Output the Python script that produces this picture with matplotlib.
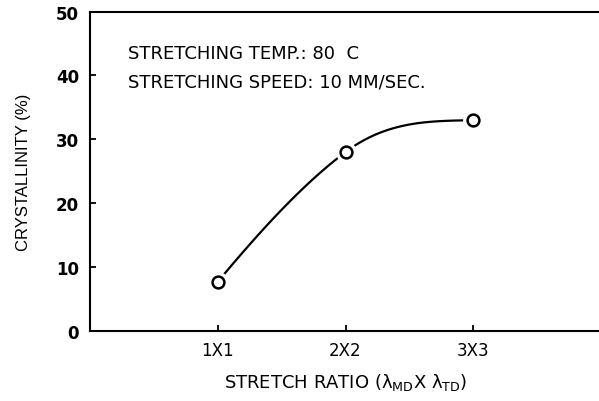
import numpy as np
import matplotlib
matplotlib.use("Agg")
import matplotlib.pyplot as plt

plt.rcParams['font.family'] = ['DejaVu Sans']
plt.rcParams['mathtext.fontset'] = 'dejavusans'

# --- datos ---
categorias = ["1X1", "2X2", "3X3"]
x_pos = [1, 2, 3]
cristalinidad = [7.7, 28.0, 33.0]
# pendientes para la curva suave (Hermite)
pendientes = [24.0, 15.0, 0.5]

fig = plt.figure(figsize=(5.99, 4.02), dpi=100)
ax = fig.add_axes([90/599, 70/402, 511/599, 319.5/402])

# --- curva suave entre puntos ---
def hermite(xs, ys, ms, n=60):
    xx, yy = [], []
    for i in range(len(xs) - 1):
        h = xs[i+1] - xs[i]
        t = np.linspace(0, 1, n)
        h00 = 2*t**3 - 3*t**2 + 1
        h10 = t**3 - 2*t**2 + t
        h01 = -2*t**3 + 3*t**2
        h11 = t**3 - t**2
        xx.append(xs[i] + t*h)
        yy.append(h00*ys[i] + h10*h*ms[i] + h01*ys[i+1] + h11*h*ms[i+1])
    return np.concatenate(xx), np.concatenate(yy)

cx, cy = hermite(x_pos, cristalinidad, pendientes)
ax.plot(cx, cy, color="black", lw=1.6, zorder=1)
# anillo blanco para separar la curva de los marcadores
ax.plot(x_pos, cristalinidad, "o", ms=14, mfc="white", mec="white", zorder=2)
ax.plot(x_pos, cristalinidad, "o", ms=8.5, mfc="white", mec="black", mew=1.8, zorder=3)

ax.set_xlim(0, 4)
ax.set_ylim(0, 50)
ax.set_xticks(x_pos)
ax.set_xticklabels(categorias)
ax.set_yticks([0, 10, 20, 30, 40, 50])

ax.spines["right"].set_visible(False)
for s in ("left", "top", "bottom"):
    ax.spines[s].set_linewidth(1.5)
ax.tick_params(direction="in", length=4, width=1.3)
ax.tick_params(axis="y", labelsize=12, pad=8)
ax.tick_params(axis="x", labelsize=12, pad=7)
for lab in ax.get_yticklabels():
    lab.set_fontweight("bold")

ax.set_xlabel("STRETCH RATIO (λ$_{\\rm MD}$X λ$_{\\rm TD}$)", fontsize=13, labelpad=9)
ax.set_ylabel("CRYSTALLINITY (%)", fontsize=12, labelpad=18,
              family="Liberation Sans")

ax.text(0.074, 0.871, "STRETCHING TEMP.: 80  C", transform=ax.transAxes,
        fontsize=13, ha="left", va="center")
ax.text(0.074, 0.782, "STRETCHING SPEED: 10 MM/SEC.", transform=ax.transAxes,
        fontsize=13, ha="left", va="center")

fig.savefig("out.png", dpi=100)
